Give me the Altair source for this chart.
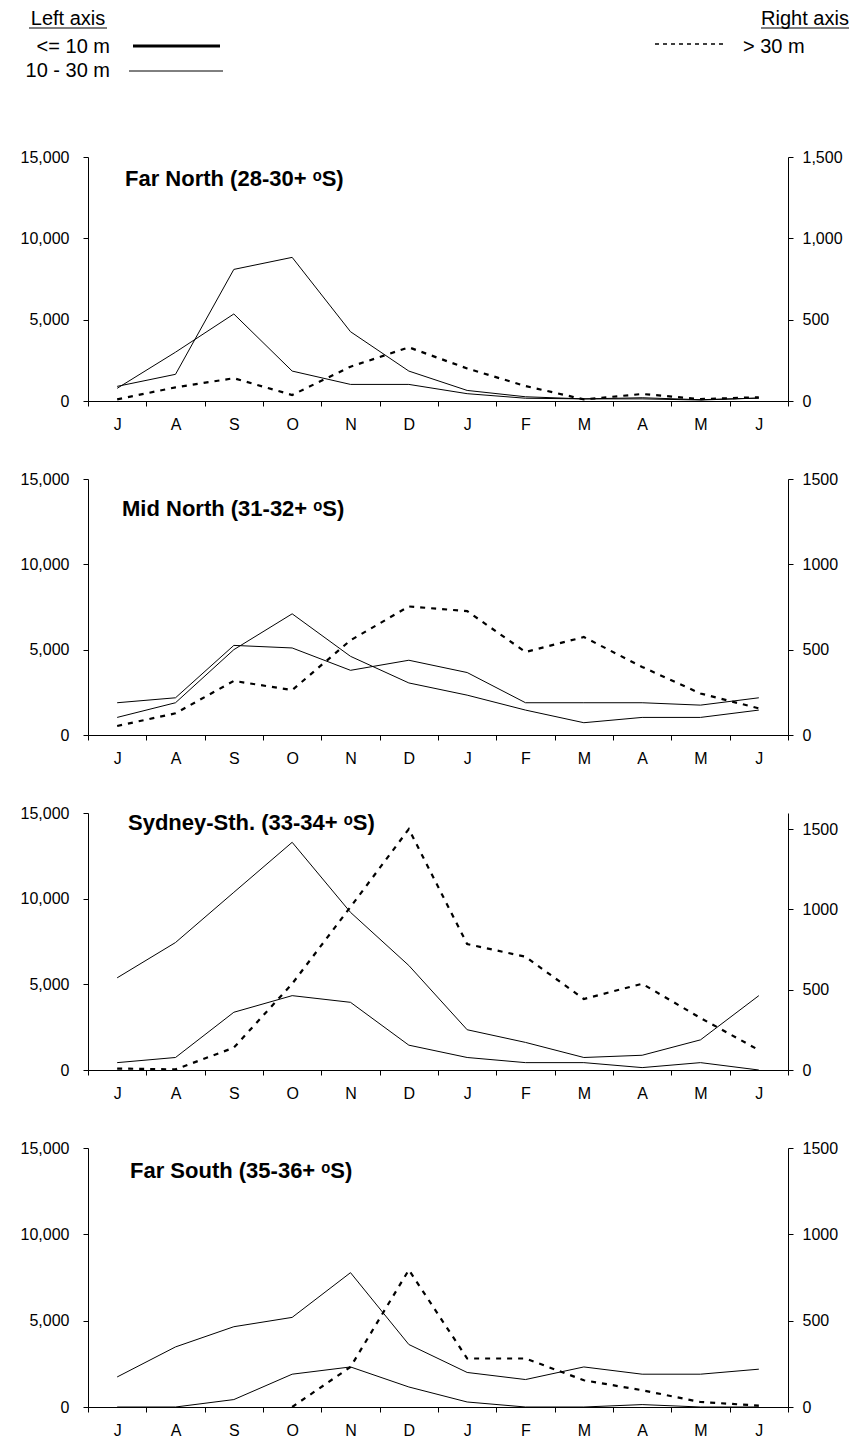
import altair as alt
import pandas as pd

# ---------------- data ----------------
months = ["J", "A", "S", "O", "N", "D", "J", "F", "M", "A", "M", "J"]
month_idx = list(range(12))

titles = [
    "Far North (28-30+ \u1d52S)",
    "Mid North (31-32+ \u1d52S)",
    "Sydney-Sth. (33-34+ \u1d52S)",
    "Far South (35-36+ \u1d52S)",
]

# left axis series (two depth bands)
band_10_30 = [
    [900, 1640, 8090, 8830, 4260, 1840, 650, 260, 130, 200, 80, 180],
    [1030, 1890, 5000, 7100, 4610, 3050, 2335, 1460, 720, 1030, 1030, 1460],
    [5380, 7440, 10370, 13290, 9200, 6100, 2350, 1610, 730, 860, 1760, 4340],
    [1740, 3480, 4650, 5190, 7780, 3620, 2000, 1590, 2320, 1900, 1900, 2190],
]
band_le10 = [
    [780, 3000, 5350, 1840, 1020, 1020, 450, 170, 130, 130, 60, 180],
    [1890, 2180, 5250, 5100, 3790, 4380, 3660, 1890, 1890, 1890, 1750, 2180],
    [430, 730, 3370, 4340, 3950, 1450, 730, 430, 430, 140, 430, 0],
    [0, 0, 430, 1900, 2320, 1160, 290, 0, 0, 140, 0, 0],
]
# right axis series (> 30 m)
band_gt30 = [
    [10, 84, 140, 37, 211, 330, 200, 92, 10, 43, 12, 23],
    [53, 127, 317, 263, 555, 753, 726, 486, 574, 399, 243, 156],
    [9, 4, 139, 537, 1015, 1500, 784, 705, 442, 537, 324, 124],
    [None, None, None, 0, 232, 794, 281, 281, 155, 97, 29, 8],
]

left_ticks = [0, 5000, 10000, 15000]
right_ticks = [0, 500, 1000, 1500]
right_max = [1500, 1500, 1600, 1500]
right_fmt = [",d", "d", "d", "d"]
panel_heights = [244, 256, 257, 259]
title_pos = [(37, 29), (34, 37), (40, 17), (42, 30)]

FONT = "Liberation Sans"
label_expr = "[" + ",".join("'%s'" % m for m in months) + "][datum.value]"


def panel(i):
    solid = pd.DataFrame({
        "m": month_idx * 2,
        "v": band_le10[i] + band_10_30[i],
        "s": ["<= 10 m"] * 12 + ["10 - 30 m"] * 12,
    })
    dash = pd.DataFrame({"m": month_idx, "v": band_gt30[i]})

    x = alt.X(
        "m:O",
        scale=alt.Scale(type="band", paddingInner=0, paddingOuter=0),
        bandPosition=0.5,
        axis=alt.Axis(
            title=None, labelAngle=0, tickBand="extent", labelExpr=label_expr,
            labelPadding=10, tickSize=5, labelFontSize=16,
        ),
    )

    left = alt.Chart(solid).mark_line(color="black", strokeWidth=1).encode(
        x=x,
        y=alt.Y(
            "v:Q",
            scale=alt.Scale(domain=[0, 15000], nice=False),
            axis=alt.Axis(
                orient="left", values=left_ticks, format=",d", title=None,
                tickSize=5, labelPadding=14,
            ),
        ),
        detail="s:N",
    )

    right = alt.Chart(dash).mark_line(
        color="black", strokeWidth=2.2, strokeDash=[5, 6]
    ).encode(
        x=x,
        y=alt.Y(
            "v:Q",
            scale=alt.Scale(domain=[0, right_max[i]], nice=False),
            axis=alt.Axis(
                orient="right", values=right_ticks, format=right_fmt[i],
                title=None, tickSize=5, labelPadding=9,
            ),
        ),
    )

    tx, ty = title_pos[i]
    title = alt.Chart(pd.DataFrame({"t": [titles[i]]})).mark_text(
        align="left", baseline="alphabetic", font=FONT, fontSize=22,
        fontWeight="bold", color="black",
    ).encode(x=alt.value(tx), y=alt.value(ty), text="t:N")

    return alt.layer(left, right, title).resolve_scale(y="independent").properties(
        width=700, height=panel_heights[i]
    )


dummy = pd.DataFrame({"k": [0]})


def ltext(txt, x, y, align):
    return alt.Chart(dummy).mark_text(
        align=align, baseline="alphabetic", font=FONT, fontSize=20, color="black"
    ).encode(x=alt.value(x), y=alt.value(y), text=alt.value(txt))


def lrule(x1, x2, y, width, dash=None):
    kw = dict(color="black", strokeWidth=width)
    if dash:
        kw["strokeDash"] = dash
    return alt.Chart(dummy).mark_rule(**kw).encode(
        x=alt.value(x1), x2=alt.value(x2), y=alt.value(y)
    )


legend = alt.layer(
    ltext("Left axis", -20, 25, "center"),
    lrule(-59, 19, 28, 1.2),
    ltext("<= 10 m", 22, 53, "right"),
    lrule(45, 132, 46, 3),
    ltext("10 - 30 m", 22, 77, "right"),
    lrule(41, 135, 71, 1),
    ltext("Right axis", 717, 25, "center"),
    lrule(673, 761, 28, 1.2),
    lrule(567, 635, 44, 1.3, [4, 4]),
    ltext("> 30 m", 655, 53, "left"),
).properties(width=700, height=79)

chart = alt.vconcat(
    legend, panel(0), panel(1), panel(2), panel(3), spacing=78, bounds="flush"
).properties(
    padding={"left": 20, "top": 0, "right": 5, "bottom": 5}
).configure(font=FONT).configure_view(strokeWidth=0).configure_axis(
    labelFont=FONT, labelFontSize=16, labelColor="black", domainColor="black",
    tickColor="black", grid=False, domainWidth=1, tickWidth=1,
)

chart.save("out.html", embed_options={"renderer": "svg", "actions": False})
